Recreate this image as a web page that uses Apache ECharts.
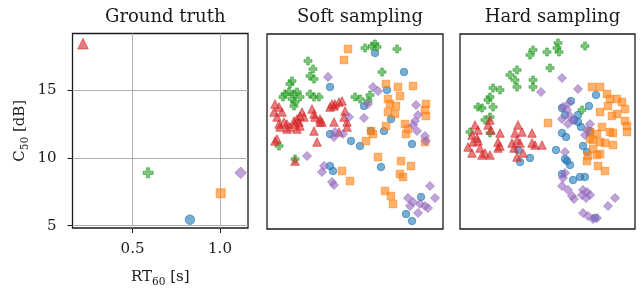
<!DOCTYPE html>
<html><head><meta charset="utf-8">
<script src="https://cdn.jsdelivr.net/npm/echarts@6/dist/echarts.min.js"></script>
<style>html,body{margin:0;padding:0;background:#fff}#c{width:644px;height:293px}</style>
</head><body><div id="c"></div>
<script>
// ---------- Data ----------
const titles = ['Ground truth', 'Soft sampling', 'Hard sampling'];
const classNames = ['blue', 'orange', 'green', 'red', 'purple'];
const xTicks = [0.5, 1.0];
const yTicks = [5, 10, 15];
// Ground truth: [RT60 (s), C50 (dB)]
const gtBlue = [[0.828, 5.44]];
const gtOrange = [[1.004, 7.39]];
const gtGreen = [[0.589, 8.9]];
const gtRed = [[0.217, 18.42]];
const gtPurple = [[1.118, 8.9]];

// Soft sampling embedding (arbitrary units)
const softBlue = [[108,176],[137,157],[63,142],[120,139],[97,123],[124,110],[117,98],[104,98],[63,95],[84,88],[93,83],[145,85],[114,62],[63,63],[66,58],[154,32],[139,15],[145,8]];
const softOrange = [[81,180],[77,169],[119,145],[131,142],[146,143],[133,133],[121,130],[123,125],[129,123],[121,117],[128,115],[159,125],[158,119],[159,113],[119,103],[138,105],[141,100],[139,95],[104,98],[106,95],[99,88],[158,87],[111,72],[134,68],[144,63],[133,55],[136,52],[75,58],[83,48],[118,38],[124,33],[126,25]];
const softGreen = [[41,168],[46,160],[43,153],[47,150],[25,148],[23,145],[18,135],[22,137],[27,135],[30,137],[25,130],[28,127],[27,123],[33,132],[16,132],[43,135],[47,132],[52,132],[88,132],[93,130],[103,134],[101,128],[98,181],[108,185],[110,182],[105,183],[130,180],[115,157],[12,83],[28,70]];
const softRed = [[8,125],[12,122],[7,117],[15,117],[10,112],[17,107],[12,105],[13,102],[20,105],[20,100],[23,102],[27,108],[30,110],[32,107],[33,113],[35,117],[37,112],[28,105],[33,103],[30,100],[45,120],[47,115],[48,112],[53,110],[55,107],[47,98],[50,87],[10,90],[8,88],[28,68],[65,125],[68,125],[72,127],[63,122],[67,123],[75,128],[78,118],[77,112],[80,107],[67,107],[72,97],[80,102],[53,107]];
const softPurple = [[61,152],[106,142],[111,138],[101,125],[149,124],[151,114],[148,108],[146,104],[150,98],[158,93],[159,88],[82,112],[97,111],[68,97],[67,92],[76,95],[40,73],[57,63],[55,57],[65,47],[67,44],[163,43],[168,31],[141,31],[143,23],[153,25],[158,23],[161,21],[151,16],[146,27]];

// Hard sampling embedding (arbitrary units)
const hardBlue = [[136,134],[111,128],[129,123],[102,121],[105,114],[118,114],[118,107],[121,102],[102,96],[106,92],[96,79],[105,70],[107,68],[110,64],[123,83],[127,77],[102,55],[113,49],[120,52],[125,52],[70,71],[60,67],[58,79],[135,11],[130,98],[114,109]];
const hardOrange = [[132,142],[140,142],[147,135],[150,130],[157,130],[162,127],[165,120],[148,123],[140,117],[152,113],[157,115],[165,108],[167,103],[167,97],[150,97],[153,96],[142,102],[137,95],[130,97],[130,90],[133,89],[140,87],[145,86],[153,84],[128,73],[133,80],[140,75],[127,68],[138,63],[145,58],[137,74],[88,106]];
const hardGreen = [[98,186],[97,181],[99,177],[125,183],[73,179],[70,174],[87,177],[90,161],[57,159],[50,154],[55,149],[57,142],[73,149],[73,142],[33,141],[40,139],[30,132],[28,129],[18,122],[22,121],[33,122],[30,112],[10,97],[30,96],[122,119],[25,109]];
const hardRed = [[15,104],[18,99],[30,109],[28,104],[31,99],[40,96],[58,104],[55,96],[62,97],[72,96],[12,94],[17,91],[8,82],[12,76],[20,81],[22,74],[25,76],[18,88],[38,87],[38,81],[40,83],[57,89],[60,86],[52,86],[54,81],[72,86],[75,84],[82,84],[57,72],[63,76],[30,74],[13,87]];
const hardPurple = [[102,151],[118,140],[81,137],[103,122],[107,119],[110,113],[102,110],[108,105],[113,109],[130,105],[127,99],[125,94],[105,77],[103,51],[105,56],[102,43],[108,39],[112,33],[114,30],[123,39],[127,37],[122,34],[130,34],[126,31],[155,31],[148,23],[123,16],[128,13],[133,10],[137,11],[109,126]];

// ---------- Styling ----------
const colors = {blue:[31,119,180], orange:[255,127,14], green:[44,160,44], red:[214,39,40], purple:[148,103,189]};
const plusPath = 'path://M1,0H2V1H3V2H2V3H1V2H0V1H1Z';
const symbols = {blue:'circle', orange:'rect', green:plusPath, red:'triangle', purple:'diamond'};
const sizesBig = {blue:9.5, orange:9, green:10, red:10.5, purple:11.5};
const sizesSmall = {blue:7.5, orange:7.5, green:8, red:8.5, purple:9};
const alpha = 0.75;
const serif = 'DejaVu Serif';

function rgba(c){ return 'rgba(' + colors[c].join(',') + ',' + alpha + ')'; }

const panelData = [
  {blue:gtBlue, orange:gtOrange, green:gtGreen, red:gtRed, purple:gtPurple},
  {blue:softBlue, orange:softOrange, green:softGreen, red:softRed, purple:softPurple},
  {blue:hardBlue, orange:hardOrange, green:hardGreen, red:hardRed, purple:hardPurple}
];

const grids = [
  {left:72.5, top:33.5, width:175.5, height:195.5},
  {left:267, top:34, width:176, height:195},
  {left:460, top:34, width:175, height:195}
].map(g => Object.assign({show:true, borderColor:'#1a1a1a', borderWidth:1.3, backgroundColor:'transparent'}, g));

const richName = {
  a:{fontFamily:serif, fontSize:15, color:'#1a1a1a', lineHeight:18, verticalAlign:'top'},
  b:{fontFamily:serif, fontSize:10.5, color:'#1a1a1a', lineHeight:18, verticalAlign:'bottom', padding:[8,0,0,0]}
};

const xAxes = [
  {gridIndex:0, type:'value', min:0.157, max:1.16,
   axisLine:{show:false},
   axisTick:{show:true, inside:false, length:5, lineStyle:{color:'#1a1a1a', width:1}, customValues:xTicks},
   axisLabel:{show:true, margin:14, fontFamily:serif, fontSize:15, color:'#1a1a1a', customValues:xTicks, formatter: v => v.toFixed(1)},
   splitLine:{show:true, lineStyle:{color:'#b0b0b0', width:1}},
   name:'{a|RT}{b|60}{a| [s]}', nameLocation:'middle', nameGap:42,
   nameTextStyle:{rich:richName}},
  {gridIndex:1, type:'value', min:0, max:176, show:false},
  {gridIndex:2, type:'value', min:0, max:175, show:false}
];
const yAxes = [
  {gridIndex:0, type:'value', min:4.83, max:19.17,
   axisLine:{show:false},
   axisTick:{show:true, inside:false, length:5, lineStyle:{color:'#1a1a1a', width:1}, customValues:yTicks},
   axisLabel:{show:true, margin:16, fontFamily:serif, fontSize:15, color:'#1a1a1a', customValues:yTicks},
   splitLine:{show:true, lineStyle:{color:'#b0b0b0', width:1}},
   name:'{a|C}{b|50}{a| [dB]}', nameLocation:'middle', nameGap:42, nameRotate:90,
   nameTextStyle:{rich:richName}},
  {gridIndex:1, type:'value', min:0, max:195, show:false},
  {gridIndex:2, type:'value', min:0, max:195, show:false}
];

const series = [];
panelData.forEach((pd, i) => {
  classNames.forEach(c => {
    const sz = i === 0 ? sizesBig[c] : sizesSmall[c];
    series.push({
      type:'scatter', xAxisIndex:i, yAxisIndex:i, data:pd[c],
      symbol:symbols[c], symbolSize:sz, silent:true, animation:false,
      itemStyle:{color:rgba(c), borderColor:rgba(c), borderWidth:1}
    });
  });
});

const centers = grids.map(g => g.left + g.width / 2);
const title = titles.map((t, i) => ({
  text:t, left:centers[i], top:3, textAlign:'center',
  textStyle:{fontFamily:serif, fontSize:18, fontWeight:'normal', color:'#1a1a1a'}
}));

const chart = echarts.init(document.getElementById('c'), null, {renderer:'canvas'});
chart.setOption({
  animation:false, backgroundColor:'#fff',
  title:title, grid:grids, xAxis:xAxes, yAxis:yAxes, series:series
});
</script></body></html>
